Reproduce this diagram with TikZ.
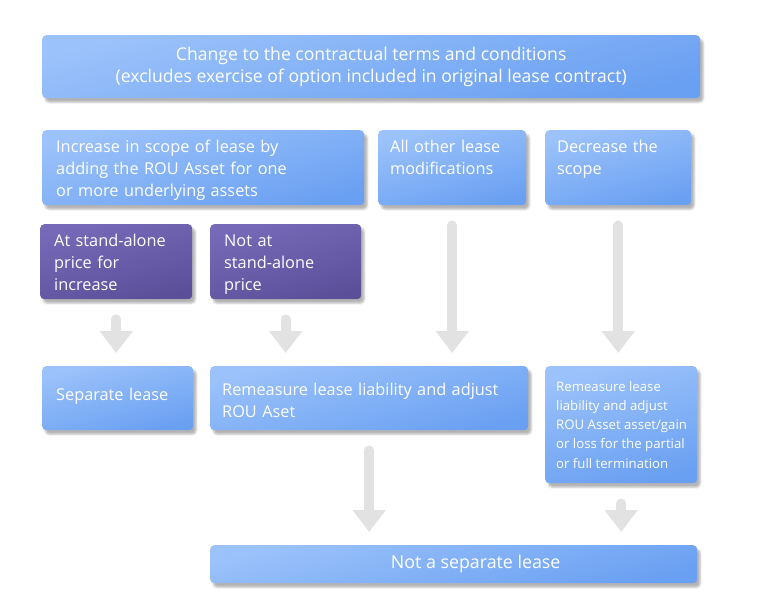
\documentclass[tikz,border=0pt]{standalone}
\usepackage{fontspec}
\setmainfont{Open Sans}
\usepackage{xcolor}
\usepackage{tikz}
\usetikzlibrary{arrows.meta}
\usetikzlibrary{shadows.blur}
\definecolor{boxlight}{HTML}{9BC2FA}
\definecolor{boxdark}{HTML}{6AA0F2}
\definecolor{purplelight}{HTML}{7669B7}
\definecolor{purpledark}{HTML}{5C4F9A}
\definecolor{flowgray}{HTML}{E2E2E2}

\begin{document}
\begin{tikzpicture}[x=1pt, y=-1pt]
\tikzset{box/.style={anchor=north west, rounded corners=4pt, text=white, align=left, inner xsep=14pt, top color=boxlight, bottom color=boxdark, shading angle=15, blur shadow={shadow xshift=3pt, shadow yshift=-4pt, shadow blur radius=2pt, shadow opacity=30}, font=\fontsize{16.3}{22}\selectfont},
  upper/.style={box, text height=12pt, text depth=43pt, inner ysep=10pt},
  choice/.style={upper, top color=purplelight, bottom color=purpledark, shading angle=15},
  flow/.style={draw=flowgray, line width=10pt, line cap=round, -{Triangle[width=32pt,length=22pt]}, shorten <=20pt, shorten >=13pt}};
\useasboundingbox (0,0) rectangle (772,614);
\node [box, minimum width=658pt, minimum height=63pt, align=center, font=\fontsize{17.6}{22}\selectfont] (change) at (42,35) {Change to the contractual terms and conditions\\(excludes exercise of option included in original lease contract)};
\node [upper, text width=294pt] (increase) at (42,130) {Increase in scope of lease by\\adding the ROU Asset for one\\or more underlying assets};
\node [upper, text width=124pt, inner xsep=12pt] (other) at (378,130) {All other lease\\modifications};
\node [upper, text width=122pt, inner xsep=12pt] (decrease) at (545,130) {Decrease the\\scope};
\node [choice, text width=124pt] (standalone) at (40,224) {At stand-alone\\price for\\increase};
\node [choice, text width=123pt] (notstandalone) at (210,224) {Not at\\stand-alone\\price};
\node [box, text width=123pt, minimum height=64pt, text depth=8pt] (separate) at (42,366) {Separate lease};
\node [box, text width=294pt, minimum height=64pt, inner xsep=12pt, text depth=18pt] (remeasure) at (210,366) {Remeasure lease liability and adjust\\ROU Aset};
\node [box, text width=134pt, minimum height=117pt, inner xsep=9pt, align=flush left, font=\fontsize{13.2}{19.3}\selectfont] (termination) at (545,366) {\hspace*{2pt}Remeasure lease\\\hspace*{2pt}liability and adjust\\\hspace*{2pt}ROU Asset asset/gain\\\hspace*{2pt}or loss for the partial\\\hspace*{2pt}or full termination};
\node [box, minimum width=487pt, minimum height=38pt, align=center, font=\fontsize{17.8}{22}\selectfont] (notseparate) at (210,545) {\hspace*{44pt}Not a separate lease};

\draw [flow] (standalone.south) -- (standalone.south |- separate.north);
\draw [flow] (notstandalone.south) -- (notstandalone.south |- remeasure.north);
\draw [flow] (other.south) -- (other.south |- remeasure.north);
\draw [flow] (decrease.south) -- (decrease.south |- termination.north);
\draw [flow] (remeasure.south) -- (remeasure.south |- notseparate.north);
\draw [flow] (termination.south) -- (termination.south |- notseparate.north);
\end{tikzpicture}
\end{document}
